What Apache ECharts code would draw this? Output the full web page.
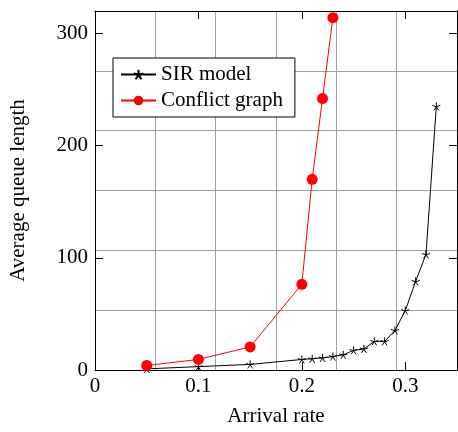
<!DOCTYPE html>
<html>
<head>
<meta charset="utf-8">
<script src="https://cdn.jsdelivr.net/npm/echarts@6/dist/echarts.min.js"></script>
<style>html,body{margin:0;padding:0;background:#fff;}#c{width:458px;height:432px;}</style>
</head>
<body>
<div id="c"></div>
<script>
const sirX = [0.05, 0.1, 0.15, 0.2, 0.21, 0.22, 0.23, 0.24, 0.25, 0.26, 0.27, 0.28, 0.29, 0.3, 0.31, 0.32, 0.33];
const sirY = [1, 3, 5, 9.4, 10, 10.8, 12, 13.5, 17.5, 18.8, 25.5, 25.5, 35.3, 53, 79, 103, 235];
const cgX = [0.05, 0.1, 0.15, 0.2, 0.21, 0.22, 0.23];
const cgY = [4, 9.4, 20.6, 76.4, 170, 242, 314];
const seriesNames = ['SIR model', 'Conflict graph'];
const xTicks = [0, 0.1, 0.2, 0.3];
const yTicks = [0, 100, 200, 300];

const FONT = 'Liberation Serif';
const starPath = 'path://M0,-1L0,0M0.951,-0.309L0,0M0.588,0.809L0,0M-0.588,0.809L0,0M-0.951,-0.309L0,0';
const chart = echarts.init(document.getElementById('c'), null, {renderer: 'canvas'});
const blackLine = () => ({show: true, onZero: false, lineStyle: {color: '#000', width: 1}});
const tickIn = () => ({show: true, inside: true, length: 8, lineStyle: {color: '#000', width: 1}});
chart.setOption({
  animation: false,
  backgroundColor: '#fff',
  grid: {left: 94, top: 11, width: 363, height: 362, containLabel: false},
  legend: {
    orient: 'vertical', left: 113, top: 58,
    padding: [6, 12, 6, 7], itemGap: 5,
    itemWidth: 35, itemHeight: 12,
    borderColor: '#000', borderWidth: 1, backgroundColor: '#fff',
    textStyle: {fontFamily: FONT, fontSize: 21, color: '#000', lineHeight: 21},
    data: seriesNames
  },
  xAxis: [
    {type: 'value', min: 0, max: 0.35, interval: 0.1, position: 'bottom',
     axisLine: blackLine(), axisTick: tickIn(), splitLine: {show: false},
     axisLabel: {fontFamily: FONT, fontSize: 21, color: '#000', margin: 6, showMaxLabel: false,
       formatter: v => xTicks.some(t => Math.abs(t - v) < 1e-9) ? String(v) : ''},
     name: 'Arrival rate', nameLocation: 'middle', nameGap: 36,
     nameTextStyle: {fontFamily: FONT, fontSize: 21, color: '#000'}},
    {type: 'value', min: 0, max: 0.35, interval: 0.1, position: 'top',
     axisLine: blackLine(), axisTick: tickIn(), axisLabel: {show: false}, splitLine: {show: false}},
    {type: 'value', min: 0, max: 6, interval: 1, position: 'bottom',
     axisLine: {show: false}, axisTick: {show: false}, axisLabel: {show: false},
     splitLine: {show: true, lineStyle: {color: '#a0a0a0', width: 1}}}
  ],
  yAxis: [
    {type: 'value', min: 0, max: 320, interval: 100, position: 'left',
     axisLine: blackLine(), axisTick: tickIn(), splitLine: {show: false},
     axisLabel: {fontFamily: FONT, fontSize: 21, color: '#000', margin: 7, showMaxLabel: false,
       formatter: v => yTicks.includes(v) ? String(v) : ''},
     name: 'Average queue length', nameLocation: 'middle', nameGap: 66,
     nameTextStyle: {fontFamily: FONT, fontSize: 21, color: '#000'}},
    {type: 'value', min: 0, max: 320, interval: 100, position: 'right',
     axisLine: blackLine(), axisTick: tickIn(), axisLabel: {show: false}, splitLine: {show: false}},
    {type: 'value', min: 0, max: 6, interval: 1, position: 'left',
     axisLine: {show: false}, axisTick: {show: false}, axisLabel: {show: false},
     splitLine: {show: true, lineStyle: {color: '#a0a0a0', width: 1}}}
  ],
  series: [
    {name: seriesNames[0], type: 'line', xAxisIndex: 0, yAxisIndex: 0,
     data: sirX.map((x, i) => [x, sirY[i]]),
     symbol: starPath, symbolSize: 8, showAllSymbol: true,
     lineStyle: {color: '#000', width: 1},
     itemStyle: {color: 'rgba(0,0,0,0)', borderColor: '#000', borderWidth: 1},
     z: 3},
    {name: seriesNames[1], type: 'line', xAxisIndex: 0, yAxisIndex: 0,
     data: cgX.map((x, i) => [x, cgY[i]]),
     symbol: 'circle', symbolSize: 11, showAllSymbol: true,
     lineStyle: {color: '#ff0000', width: 1},
     itemStyle: {color: '#ff0000', borderWidth: 0},
     z: 4}
  ]
});
</script>
</body>
</html>
